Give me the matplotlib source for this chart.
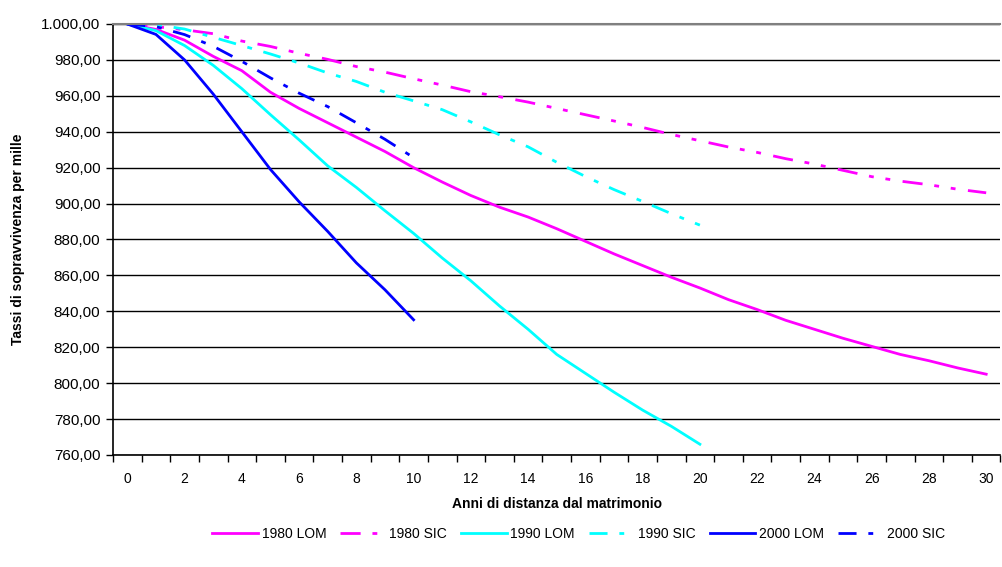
import matplotlib
matplotlib.use('Agg')
import matplotlib.pyplot as plt
from matplotlib.ticker import FixedLocator, FuncFormatter, NullFormatter

plt.rcParams['font.family'] = ['Liberation Sans', 'DejaVu Sans']
plt.rcParams['lines.scale_dashes'] = False

# anni di distanza dal matrimonio
years = list(range(31))

# tassi di sopravvivenza per mille
lom_1980 = [1000, 997, 991, 982, 974, 962, 953, 945, 937, 929, 920, 912, 904.5, 898,
            892.5, 886, 879, 872, 865.5, 859, 853, 846.5, 841, 835, 830, 825, 820.5,
            816, 812.5, 808.5, 805]
sic_1980 = [1000, 998.5, 996.8, 994.6, 990.5, 987.5, 983.7, 980.3, 976.3, 973.2, 969.5,
            966, 962.3, 959.5, 956.5, 953, 949.5, 946, 942.4, 938.5, 935, 931.5, 928.5,
            925, 922, 918.5, 915, 912.5, 910.5, 908, 906]
lom_1990 = [1000, 996.3, 988, 977, 964, 949.5, 935.5, 921, 909, 896, 883.4, 869.7, 857,
            843, 830, 816, 805.5, 795, 785, 776, 766]
sic_1990 = [1000, 999.6, 997.2, 992.6, 988, 983.3, 978.3, 972.7, 968, 962, 957.2, 952.3,
            945.5, 938.3, 931.6, 923, 915.1, 907.8, 901.2, 894.4, 888]
lom_2000 = [1000, 994.2, 980, 961, 940, 919, 901, 884.5, 867, 852, 835.3]
sic_2000 = [1000, 998.5, 994.1, 987.6, 979.2, 970, 961.5, 954, 945, 935.8, 925.6]

MAGENTA = '#ff00ff'
CYAN = '#00ffff'
BLUE = '#0000ff'
dash_dot = (0, (13, 8.5, 3.5, 8.5))
dash_dot_dot = (0, (14.5, 8.5, 3.5, 8.5, 3.5, 9))

fig = plt.figure(figsize=(10.03, 5.67), dpi=100)
ax = fig.add_axes([113 / 1003, 1 - 455 / 567, 887.5 / 1003, 431 / 567])

lw = 2.0
ax.plot(years[:len(lom_1980)], lom_1980, color=MAGENTA, lw=lw, label='1980 LOM')
ax.plot(years[:len(sic_1980)], sic_1980, color=MAGENTA, lw=lw, ls=dash_dot_dot, label='1980 SIC')
ax.plot(years[:len(lom_1990)], lom_1990, color=CYAN, lw=lw, label='1990 LOM')
ax.plot(years[:len(sic_1990)], sic_1990, color=CYAN, lw=lw, ls=dash_dot, label='1990 SIC')
ax.plot(years[:len(lom_2000)], lom_2000, color=BLUE, lw=lw, label='2000 LOM')
ax.plot(years[:len(sic_2000)], sic_2000, color=BLUE, lw=lw, ls=dash_dot, label='2000 SIC')

ax.set_xlim(-0.5, 30.5)
ax.set_ylim(760, 1000)

# asse y
ax.yaxis.set_major_locator(FixedLocator(range(760, 1001, 20)))
ax.yaxis.set_major_formatter(FuncFormatter(
    lambda v, p: '{:,.2f}'.format(v).replace(',', 'X').replace('.', ',').replace('X', '.')))
ax.tick_params(axis='y', direction='out', length=5, width=1, pad=4, labelsize=11)
ax.grid(axis='y', color='black', lw=1)
ax.set_axisbelow(True)

# asse x: tacche tra le categorie, etichette ogni 2 anni
ax.xaxis.set_major_locator(FixedLocator([i - 0.5 for i in range(32)]))
ax.xaxis.set_major_formatter(NullFormatter())
ax.xaxis.set_minor_locator(FixedLocator(years[::2]))
ax.xaxis.set_minor_formatter(FuncFormatter(lambda v, p: str(int(v))))
ax.tick_params(axis='x', which='major', direction='out', length=5, width=1)
ax.tick_params(axis='x', which='minor', length=0, pad=12, labelsize=10)

for s in ['left', 'bottom']:
    ax.spines[s].set_color('black')
    ax.spines[s].set_linewidth(1.2)
ax.spines['top'].set_color('#808080')
ax.spines['top'].set_linewidth(1.5)
ax.spines['right'].set_visible(False)

ax.set_ylabel('Tassi di sopravvivenza per mille', fontsize=10, fontweight='bold', labelpad=12)
ax.set_xlabel('Anni di distanza dal matrimonio', fontsize=10, fontweight='bold', labelpad=8)

fig.legend(loc='center', bbox_to_anchor=(0.577, 1 - 534 / 567), ncol=6, frameon=False,
           fontsize=10, handlelength=3.3, handletextpad=0.25, columnspacing=1.0)

fig.savefig('out.png', dpi=100)
